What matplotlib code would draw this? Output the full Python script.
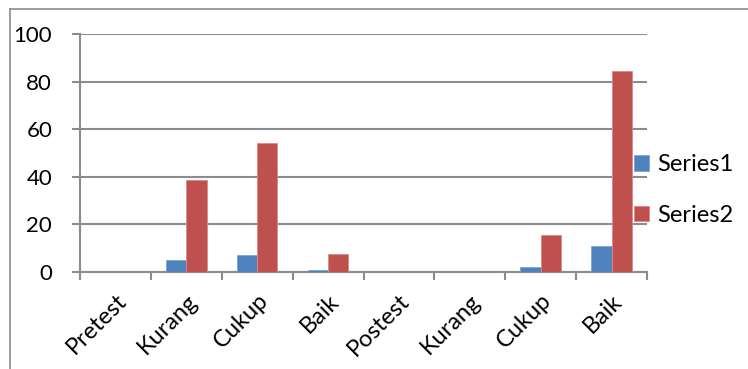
import matplotlib.pyplot as plt
import numpy as np
from matplotlib.lines import Line2D

categories = ["Pretest", "Kurang", "Cukup", "Baik", "Postest", "Kurang", "Cukup", "Baik"]
series1 = [0, 5, 7, 1, 0, 0, 2, 11]
series2 = [0, 38.5, 54, 7.5, 0, 0, 15.5, 84.5]
yticks = [0, 20, 40, 60, 80, 100]

blue = "#4F81BD"
red = "#C0504D"
grid_col = "#8C8C8C"

plt.rcParams['font.family'] = ['Lato', 'DejaVu Sans']

fig = plt.figure(figsize=(7.48, 3.69), dpi=100)
ax = fig.add_axes([80/748, 1-272/369, (647-80)/748, (272-34)/369])

x = np.arange(len(categories))
w = 0.286
ax.bar(x - w/2, series1, w, color=blue, edgecolor="#7FA3D0", linewidth=0.6, label="Series1", zorder=3)
ax.bar(x + w/2, series2, w, color=red, edgecolor="#D98A88", linewidth=0.6, label="Series2", zorder=3)

ax.set_xlim(-0.5, len(categories) - 0.5)
ax.set_ylim(0, 100)
ax.set_yticks(yticks)
ax.yaxis.grid(True, color=grid_col, linewidth=1.5, zorder=0)
ax.set_axisbelow(True)

for s in ["top", "right"]:
    ax.spines[s].set_visible(False)
for s in ["left", "bottom"]:
    ax.spines[s].set_color(grid_col)
    ax.spines[s].set_linewidth(1.5)

ax.tick_params(axis="y", length=6, width=1.5, color=grid_col, labelsize=16, pad=14)
ax.set_xticks(x)
ax.set_xticklabels(categories, rotation=45, ha="right", rotation_mode="anchor", fontsize=17)
ax.tick_params(axis="x", which="major", length=0, pad=13)
ax.set_xticks(np.arange(-0.5, len(categories)), minor=True)
ax.tick_params(axis="x", which="minor", length=6, width=1.5, color=grid_col)

handles, labels = ax.get_legend_handles_labels()
fig.legend(handles, labels, loc="center left", bbox_to_anchor=(634/748, 1-190/369),
           frameon=False, fontsize=17, handlelength=0.65, handleheight=0.65,
           handletextpad=0.35, labelspacing=1.25, borderpad=0.0, borderaxespad=0.0)

# outer chart frame (top and left edges visible)
fig.add_artist(Line2D([10/748, 1], [1-9/369, 1-9/369], color="#8C8C8C", linewidth=1.2))
fig.add_artist(Line2D([10/748, 10/748], [0, 1-9/369], color="#8C8C8C", linewidth=1.2))

fig.savefig("out.png", dpi=100)
